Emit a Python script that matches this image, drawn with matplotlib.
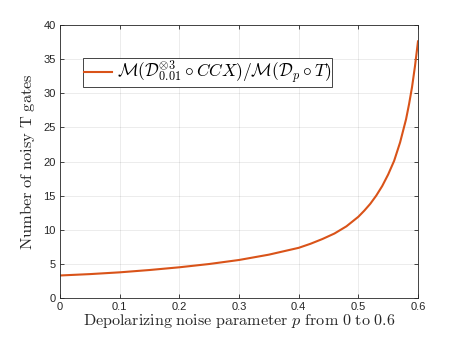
import matplotlib
matplotlib.use("Agg")
import matplotlib.pyplot as plt

# values
p = [0.00, 0.05, 0.10, 0.15, 0.20, 0.25, 0.30, 0.35, 0.40, 0.42, 0.44, 0.46,
     0.48, 0.50, 0.51, 0.52, 0.53, 0.54, 0.55, 0.56, 0.57, 0.58, 0.585, 0.59,
     0.595, 0.60]
n_gates = [3.30, 3.50, 3.76, 4.10, 4.50, 4.98, 5.57, 6.35, 7.35, 7.95, 8.65, 9.45,
           10.5, 11.9, 12.8, 13.8, 15.0, 16.4, 18.1, 20.1, 22.8, 26.2, 28.4, 30.9,
           34.0, 37.6]

xticks = [0, 0.1, 0.2, 0.3, 0.4, 0.5, 0.6]
xticklabels = ["0", "0.1", "0.2", "0.3", "0.4", "0.5", "0.6"]
yticks = [0, 5, 10, 15, 20, 25, 30, 35, 40]

plt.rcParams['mathtext.fontset'] = 'cm'
plt.rcParams['font.family'] = ['Liberation Sans', 'DejaVu Sans']

fig = plt.figure(figsize=(4.63, 3.40), dpi=100)
ax = fig.add_axes([60/463, 1-298/340, 358/463, 273/340])

ax.plot(p, n_gates, color='#D95319', lw=1.5,
        label=r'$\mathcal{M}(\mathcal{D}_{0.01}^{\otimes 3}\circ CCX)/\mathcal{M}(\mathcal{D}_p\circ T)$')

ax.set_xlim(0, 0.6)
ax.set_ylim(0, 40)
ax.set_xticks(xticks)
ax.set_xticklabels(xticklabels)
ax.set_yticks(yticks)
ax.grid(True, color='#262626', alpha=0.1, lw=0.6)
ax.set_axisbelow(True)
for s in ax.spines.values():
    s.set_color('#262626')
    s.set_linewidth(0.6)
ax.tick_params(direction='in', length=3, width=0.6, colors='#262626',
               labelsize=8, top=True, right=True, pad=3)

ax.set_xlabel(r'$\mathrm{Depolarizing\ noise\ parameter\ }p\mathrm{\ from\ 0\ to\ 0.6}$',
              fontsize=11.6, labelpad=0, color='#262626')
ax.set_ylabel(r'$\mathrm{Number\ of\ noisy\ T\ gates}$', fontsize=11.8, labelpad=5,
              color='#262626')

leg = ax.legend(loc='upper left', bbox_to_anchor=(0.064, 0.879), fontsize=12.5,
                fancybox=False, framealpha=1, edgecolor='#262626',
                handlelength=1.6, handletextpad=0.3, borderpad=0.05,
                borderaxespad=0)
leg.get_frame().set_linewidth(0.6)

fig.savefig("out.png", dpi=100)
